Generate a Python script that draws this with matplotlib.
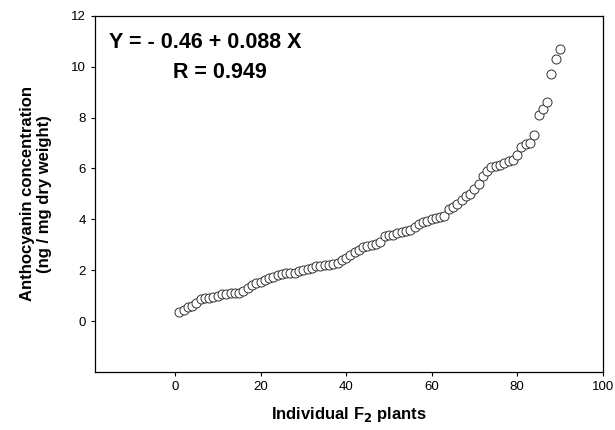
import matplotlib
matplotlib.use("Agg")
import matplotlib.pyplot as plt

plt.rcParams["font.family"] = ["Liberation Sans", "DejaVu Sans"]

# plant index (sorted F2 individuals) and anthocyanin values
plants = list(range(1, 91))
anthocyanin = [
    0.35, 0.45, 0.55, 0.60, 0.70, 0.85, 0.90, 0.90, 0.95, 1.00,
    1.05, 1.05, 1.10, 1.10, 1.10, 1.20, 1.30, 1.40, 1.50, 1.55,
    1.60, 1.70, 1.75, 1.80, 1.85, 1.90, 1.90, 1.90, 1.95, 2.00,
    2.05, 2.10, 2.15, 2.15, 2.20, 2.20, 2.25, 2.30, 2.40, 2.50,
    2.60, 2.70, 2.80, 2.90, 2.95, 3.00, 3.05, 3.10, 3.35, 3.40,
    3.40, 3.45, 3.50, 3.55, 3.60, 3.70, 3.80, 3.90, 3.95, 4.00,
    4.05, 4.10, 4.15, 4.40, 4.50, 4.60, 4.75, 4.90, 5.00, 5.20,
    5.40, 5.70, 5.90, 6.05, 6.10, 6.15, 6.20, 6.30, 6.35, 6.55,
    6.85, 6.95, 7.00, 7.30, 8.10, 8.35, 8.60, 9.70, 10.30, 10.70,
]

xticks = [0, 20, 40, 60, 80, 100]
yticks = [0, 2, 4, 6, 8, 10, 12]

W, H = 615, 430
fig = plt.figure(figsize=(W / 100, H / 100), dpi=100)
ax = fig.add_axes([0.1545, 0.135, 0.8255, 0.828])

ax.plot(plants, anthocyanin, "o", ms=6.5, mfc="white", mec="#333333", mew=0.7)

ax.set_xlim(-18.7, 100)
ax.set_ylim(-2, 12)
ax.set_xticks(xticks)
ax.set_yticks(yticks)
ax.tick_params(direction="out", length=3, width=0.8, labelsize=9.5,
               top=False, right=False)
for s in ax.spines.values():
    s.set_linewidth(0.9)

ax.set_xlabel("Individual F$_\\mathbf{2}$ plants", fontsize=12,
              fontweight="bold", labelpad=9)
ax.set_ylabel("Anthocyanin concentration\n(ng / mg dry weight)", fontsize=12,
              fontweight="bold", labelpad=14, linespacing=1.1)

# regression annotation, placed by pixel position from the top-left
fig.text(205 / W, 1 - 43 / H, "Y = - 0.46 + 0.088 X", fontsize=15.5,
         fontweight="bold", ha="center", va="center")
fig.text(220 / W, 1 - 72 / H, "R = 0.949", fontsize=15.5,
         fontweight="bold", ha="center", va="center")

fig.savefig("out.png", dpi=100)
